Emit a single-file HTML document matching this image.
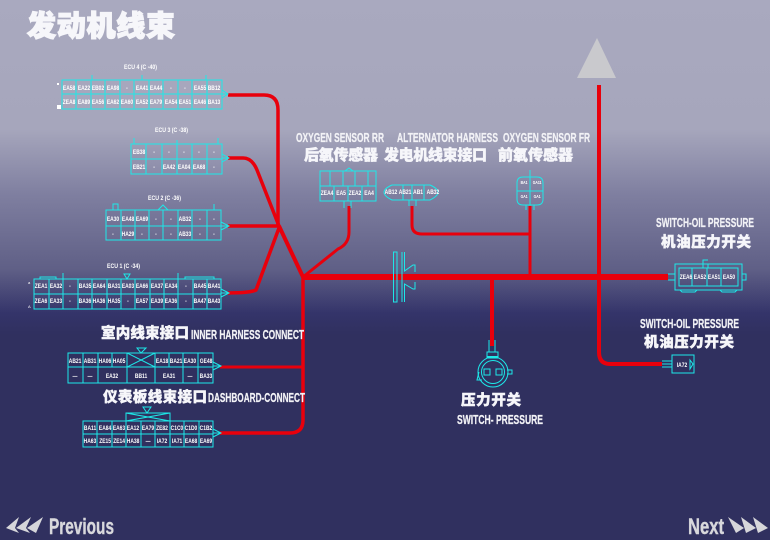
<!DOCTYPE html>
<html><head><meta charset="utf-8"><style>
html,body{margin:0;padding:0;width:770px;height:540px;overflow:hidden;background:#30305f}
svg{display:block}
.c text{font:bold 6.5px "Liberation Sans",sans-serif;fill:#fff;text-anchor:middle;transform:scaleX(.76);transform-box:fill-box;transform-origin:center}
.e{font:bold 6.5px "Liberation Sans",sans-serif;fill:#fff}
.l{font-family:"Liberation Sans",sans-serif;font-weight:bold;fill:#f2f2f6;stroke:#f2f2f6;stroke-width:.25}
.z{font-family:"Noto Sans CJK SC",sans-serif;font-weight:900;fill:#f6f6fa;stroke:#f6f6fa;stroke-width:.45}
.n{font-family:"Liberation Sans",sans-serif;font-weight:bold;fill:#d8d8dc;stroke:#d8d8dc;stroke-width:.4}
.t{fill:none;stroke:#1de8e8;stroke-width:1}
.b{shape-rendering:crispEdges}
.r{fill:none;stroke:#e8000c;stroke-linejoin:round}
</style></head><body>
<svg width="770" height="540" viewBox="0 0 770 540" xmlns="http://www.w3.org/2000/svg">
<defs><linearGradient id="g" x1="0" y1="0" x2="0" y2="1">
<stop offset="0" stop-color="#a9a9bf"/><stop offset=".24" stop-color="#a6a6bc"/><stop offset=".36" stop-color="#7f7fa0"/><stop offset=".5" stop-color="#5f5f86"/><stop offset=".58" stop-color="#34346a"/><stop offset=".62" stop-color="#30305f"/><stop offset="1" stop-color="#30305f"/></linearGradient></defs>
<rect width="770" height="540" fill="url(#g)"/>

<text class="z" x="27" y="36" font-size="29" textLength="148" style="stroke-width:1.3">发动机线束</text>
<polygon points="597,38 577,78 616,78" fill="#c9c9cd"/>

<!-- red harness -->
<g class="r">
<path stroke-width="3.5" d="M228 95H264Q278 95 278 110V226"/>
<path stroke-width="3.5" d="M228 158H243Q252 158 257 170L279 226"/>
<path stroke-width="3.5" d="M228 226H279"/>
<path stroke-width="3.5" d="M228 293Q250 293 256 290L279 228"/>
<path stroke-width="4" d="M279 226L303 277"/>
<path stroke-width="3.5" d="M303 277V420Q303 433 290 433H220"/>
<path stroke-width="3" d="M303 367H220"/>
<path stroke-width="3" d="M349 206V232Q349 244 338 249L303 277"/>
<path stroke-width="3" d="M412 206V225Q412 234 422 234H530"/>
<path stroke-width="3" d="M530 206V277"/>
<path stroke-width="4" d="M492 277V346"/>
<path stroke-width="4" d="M599 85V352Q599 364 610 364H662"/>
<path stroke-width="6" d="M303 277H668"/>
</g>

<!-- ECU4 -->
<text class="e" x="124" y="69" textLength="33" lengthAdjust="spacingAndGlyphs">ECU 4 (C -40)</text>
<g class="t b"><path d="M62 80H222V109H62ZM62 94H222M76 80V109M91 80V109M105 80V109M120 80V109M134 80V109M149 80V109M163 80V109M178 80V109M192 80V109M207 80V109M92 80V75M142 80V75M206 80V75"/></g>
<g class="t"><path d="M222 94H228M222 98L228 94L222 90"/></g>
<g fill="#fff"><rect x="57" y="105" width="4" height="4"/><rect x="57" y="83" width="2" height="2"/></g>
<g class="c">
<text x="69" y="90">EA58</text><text x="84" y="90">EA22</text><text x="98" y="90">EB02</text><text x="113" y="90">EA98</text><text x="127" y="90">-</text><text x="142" y="90">EA41</text><text x="156" y="90">EA44</text><text x="171" y="90">-</text><text x="185" y="90">-</text><text x="200" y="90">EA55</text><text x="214" y="90">BB12</text>
<text x="69" y="104">ZEA8</text><text x="84" y="104">EA89</text><text x="98" y="104">EA56</text><text x="113" y="104">EA62</text><text x="127" y="104">EA60</text><text x="142" y="104">EA52</text><text x="156" y="104">EA79</text><text x="171" y="104">EA54</text><text x="185" y="104">EA51</text><text x="200" y="104">EA46</text><text x="214" y="104">BA13</text>
</g>

<!-- ECU3 -->
<text class="e" x="155" y="132" textLength="33" lengthAdjust="spacingAndGlyphs">ECU 3 (C -38)</text>
<g class="t b"><path d="M131 144H222V174H131ZM131 159H222M146 144V174M162 144V174M177 144V174M192 144V174M207 144V174M134 144V138M177 144V140M218 144V138"/></g>
<g class="t"><path d="M222 158H229M222 162L229 158L222 154"/></g>
<g class="c">
<text x="139" y="154">EB38</text><text x="154" y="154">-</text><text x="169" y="154">-</text><text x="184" y="154">-</text><text x="199" y="154">-</text><text x="214" y="154">-</text>
<text x="139" y="169">EB21</text><text x="154" y="169">-</text><text x="169" y="169">EA42</text><text x="184" y="169">EA04</text><text x="199" y="169">EA68</text><text x="214" y="169">-</text>
</g>

<!-- ECU2 -->
<text class="e" x="148" y="200" textLength="33" lengthAdjust="spacingAndGlyphs">ECU 2 (C -36)</text>
<g class="t b"><path d="M106 210H221V240H106ZM106 226H221M121 210V240M135 210V240M149 210V240M163 210V240M178 210V240M192 210V240M207 210V240M113 210V204H118V210M214 210V204"/></g>
<g class="t"><path d="M158 210L163 205L168 210M221 226H229M221 230L229 226L221 222"/></g>
<g class="c">
<text x="113" y="221">EA30</text><text x="128" y="221">EA48</text><text x="142" y="221">EA69</text><text x="156" y="221">-</text><text x="171" y="221">-</text><text x="185" y="221">AB32</text><text x="200" y="221">-</text><text x="214" y="221">-</text>
<text x="113" y="236">-</text><text x="128" y="236">HA29</text><text x="142" y="236">-</text><text x="156" y="236">-</text><text x="171" y="236">-</text><text x="185" y="236">AB33</text><text x="200" y="236">-</text><text x="214" y="236">-</text>
</g>

<!-- ECU1 -->
<text class="e" x="107" y="268" textLength="33" lengthAdjust="spacingAndGlyphs">ECU 1 (C -34)</text>
<g class="t b"><path d="M34 279H221V309H34ZM34 294H221M49 279V309M63 279V309M78 279V309M92 279V309M107 279V309M121 279V309M135 279V309M150 279V309M164 279V309M178 279V309M193 279V309M207 279V309M40 279V277H56V279M63 279V273M178 279V273M185 279V277H214V279"/></g>
<g class="t"><path d="M124 274H130L127 279ZM221 293H229M221 297L229 293L221 289"/></g>
<g fill="#fff" font-size="4" font-family="Liberation Sans"><text x="28" y="284">a</text><text x="28" y="308">A</text></g>
<g class="c">
<text x="41" y="288">ZEA1</text><text x="56" y="288">EA32</text><text x="70" y="288">-</text><text x="85" y="288">BA35</text><text x="99" y="288">EA64</text><text x="114" y="288">BA31</text><text x="128" y="288">EA03</text><text x="142" y="288">EA66</text><text x="157" y="288">EA37</text><text x="171" y="288">EA34</text><text x="186" y="288">-</text><text x="200" y="288">BA45</text><text x="214" y="288">BA41</text>
<text x="41" y="303">ZEA6</text><text x="56" y="303">EA33</text><text x="70" y="303">-</text><text x="85" y="303">BA36</text><text x="99" y="303">HA36</text><text x="114" y="303">HA35</text><text x="128" y="303">-</text><text x="142" y="303">EA57</text><text x="157" y="303">EA39</text><text x="171" y="303">EA36</text><text x="186" y="303">-</text><text x="200" y="303">BA47</text><text x="214" y="303">BA43</text>
</g>

<!-- inner -->
<text class="z" x="101" y="338" font-size="14.500" textLength="88">室内线束接口</text>
<text class="l" x="191" y="339" font-size="12.500" textLength="113" lengthAdjust="spacingAndGlyphs">INNER HARNESS CONNECT</text>
<g class="t b"><path d="M68 353H213V383H68ZM68 367H213M83 353V383M98 353V383M112 353V367M127 353V383M155 353V383M169 353V367M183 353V383M198 353V383"/></g>
<g class="t"><path d="M127 353L155 367M155 353L127 367M137 348H146L141 353ZM213 366H221M213 370L221 366L213 362"/></g>
<g class="c">
<text x="75" y="363">AB21</text><text x="90" y="363">AB31</text><text x="105" y="363">HA06</text><text x="119" y="363">HA05</text><text x="162" y="363">EA18</text><text x="176" y="363">BA21</text><text x="190" y="363">EA30</text><text x="206" y="363">GE48</text>
<text x="75" y="378">—</text><text x="90" y="378">—</text><text x="112" y="378">EA32</text><text x="141" y="378">BB11</text><text x="169" y="378">EA31</text><text x="190" y="378">—</text><text x="206" y="378">BA33</text>
</g>

<!-- dashboard -->
<text class="z" x="103" y="402" font-size="14.500" textLength="104">仪表板线束接口</text>
<text class="l" x="208" y="402" font-size="12.500" textLength="97" lengthAdjust="spacingAndGlyphs">DASHBOARD-CONNECT</text>
<g class="t b"><path d="M83 421H213V447H83ZM83 434H213M97 421V447M112 421V447M126 421V447M141 421V447M155 421V447M170 421V447M184 421V447M199 421V447M126 421V413H170V421"/></g>
<g class="t"><path d="M126 413L170 421M170 413L126 421M143 407H151L147 413ZM213 433H221M213 437L221 433L213 429"/></g>
<g class="c">
<text x="90" y="430">BA11</text><text x="105" y="430">EA84</text><text x="119" y="430">EA63</text><text x="133" y="430">EA12</text><text x="148" y="430">EA79</text><text x="162" y="430">ZE82</text><text x="177" y="430">C1C0</text><text x="191" y="430">C1D0</text><text x="206" y="430">C1B2</text>
<text x="90" y="443">HA63</text><text x="105" y="443">ZE15</text><text x="119" y="443">ZE14</text><text x="133" y="443">HA38</text><text x="148" y="443">—</text><text x="162" y="443">IA72</text><text x="177" y="443">IA71</text><text x="191" y="443">EA68</text><text x="206" y="443">EA69</text>
</g>

<!-- top labels -->
<text class="l" x="296" y="142" font-size="12.500" textLength="88" lengthAdjust="spacingAndGlyphs">OXYGEN SENSOR RR</text>
<text class="l" x="397" y="142" font-size="12.500" textLength="101" lengthAdjust="spacingAndGlyphs">ALTERNATOR HARNESS</text>
<text class="l" x="503" y="142" font-size="12.500" textLength="87" lengthAdjust="spacingAndGlyphs">OXYGEN SENSOR FR</text>
<text class="z" x="304" y="160" font-size="15" textLength="74">后氧传感器</text>
<text class="z" x="384" y="160" font-size="15" textLength="103">发电机线束接口</text>
<text class="z" x="498" y="160" font-size="15" textLength="75">前氧传感器</text>

<!-- sensors -->
<g class="t"><path d="M320 171H376V201H320ZM320 186H376M334 186V201M348 186V201M362 186V201M330 171V186M343 171V186M355 171V186M368 171V186M344 201V208M351 201V208M345 171L349 168L353 171"/>
<path d="M392 185H430Q446 192 430 200H392Q376 192 392 185ZM403 185V200M412 185V200M424 185V200M409 200V206M416 200V206"/>
<path d="M523 177H537Q543 177 543 183V199Q543 205 537 205H523Q517 205 517 199V183Q517 177 523 177ZM530 170V205M517 191H543M526 205V210M534 205V210"/></g>
<g class="c">
<text x="327" y="195">ZEA4</text><text x="341" y="195">EA5</text><text x="355" y="195">ZEA2</text><text x="369" y="195">EA4</text>
<text x="391" y="194">AB12</text><text x="405" y="194">AB21</text><text x="418" y="194">AB1</text><text x="433" y="194">AB32</text>
</g>
<g class="c"><text x="524" y="184" style="font-size:4.500px">BA1</text><text x="537" y="184" style="font-size:4.500px">GA11</text><text x="524" y="198" style="font-size:4.500px">GA1</text><text x="537" y="198" style="font-size:4.500px">GA1</text></g>

<!-- mid connector -->
<g class="t"><path d="M393.500 252V302H397V252ZM402 252V302M404.500 252V271L413 265H415V272M404.500 302V284L413 289H415V282"/></g>

<!-- right side -->
<text class="l" x="656" y="227" font-size="12.500" textLength="98" lengthAdjust="spacingAndGlyphs">SWITCH-OIL PRESSURE</text>
<text class="z" x="661" y="247" font-size="14.500" textLength="90">机油压力开关</text>
<g class="t"><path d="M675 264H742V290H675ZM679 268H738V286H679ZM692 268V286M707 268V286M721 268V286M703 264V268H708V264M703 264V260H708M668 274H675M668 280H675M742 274H746V280H742M680 290L682 292H695L697 290M720 290L722 292H735L737 290"/></g>
<g class="c"><text x="686" y="279">ZEA6</text><text x="700" y="279">EA52</text><text x="714" y="279">EA51</text><text x="729" y="279">EA50</text></g>

<text class="l" x="640" y="328" font-size="12.500" textLength="99" lengthAdjust="spacingAndGlyphs">SWITCH-OIL PRESSURE</text>
<text class="z" x="644" y="347" font-size="14.500" textLength="90">机油压力开关</text>
<g class="t"><path d="M672 355H694V373H672ZM690 360L693 364L690 369ZM662 361H672M662 364H672M662 367H672"/></g>
<g class="c"><text x="682" y="367">IA72</text></g>

<!-- pressure switch -->
<g class="t"><path d="M489 340V352M495 340V352M487 352H498V358H487Z"/><circle cx="493" cy="372" r="15"/><circle cx="493" cy="372" r="11.500"/><rect x="484" y="369" width="6" height="6"/><rect x="496" y="369" width="6" height="6"/><path d="M479 372L477 380H482M507 370H512V374H507"/></g>
<g fill="#1de8e8"><rect x="487" y="356" width="11" height="2"/></g>
<text class="z" x="461" y="405" font-size="14.500" textLength="60">压力开关</text>
<text class="l" x="457" y="424" font-size="13" textLength="86" lengthAdjust="spacingAndGlyphs">SWITCH- PRESSURE</text>

<!-- nav -->
<g fill="#d6d6da"><polygon points="6,528 19,517 15,528 19,533"/><polygon points="16,528 31,517 26,528 30,533"/><polygon points="27,528 43,517 36,533"/></g>
<text class="n" x="49" y="534" font-size="22" textLength="65" lengthAdjust="spacingAndGlyphs">Previous</text>
<text class="n" x="688" y="534" font-size="22" textLength="36" lengthAdjust="spacingAndGlyphs">Next</text>
<g fill="#d6d6da"><polygon points="728,517 744,528 736,533"/><polygon points="741,517 756,528 746,533"/><polygon points="753,517 768,528 758,533"/></g>
</svg></body></html>
